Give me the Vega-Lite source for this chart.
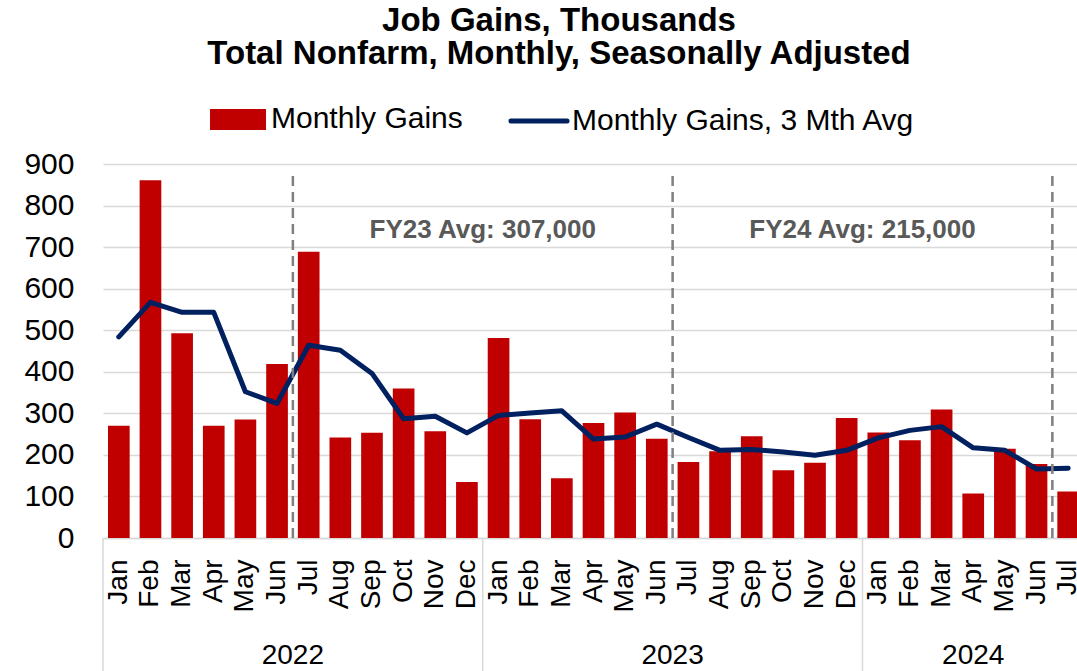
{
  "$schema": "https://vega.github.io/schema/vega-lite/v6.json",
  "width": 974,
  "height": 374,
  "autosize": {"type": "none"},
  "padding": {"left": 103, "top": 164, "right": 0, "bottom": 133},
  "background": "#ffffff",
  "config": {"view": {"stroke": null}, "font": "Liberation Sans"},
  "title": {
    "text": ["Job Gains, Thousands", "Total Nonfarm, Monthly, Seasonally Adjusted"],
    "font": "Liberation Sans",
    "fontSize": 33,
    "fontWeight": "bold",
    "color": "#000000",
    "lineHeight": 33.4,
    "anchor": "middle",
    "frame": "group",
    "dx": -31,
    "offset": 20
  },
  "datasets": {
    "jobs": [
      {"date": "2022-01-01", "gains": 270, "avg3": 484},
      {"date": "2022-02-01", "gains": 861, "avg3": 567},
      {"date": "2022-03-01", "gains": 493, "avg3": 543},
      {"date": "2022-04-01", "gains": 270, "avg3": 543},
      {"date": "2022-05-01", "gains": 285, "avg3": 352},
      {"date": "2022-06-01", "gains": 419, "avg3": 324},
      {"date": "2022-07-01", "gains": 689, "avg3": 464},
      {"date": "2022-08-01", "gains": 242, "avg3": 452},
      {"date": "2022-09-01", "gains": 253, "avg3": 396},
      {"date": "2022-10-01", "gains": 360, "avg3": 287},
      {"date": "2022-11-01", "gains": 257, "avg3": 293},
      {"date": "2022-12-01", "gains": 135, "avg3": 253},
      {"date": "2023-01-01", "gains": 481, "avg3": 295},
      {"date": "2023-02-01", "gains": 286, "avg3": 301},
      {"date": "2023-03-01", "gains": 144, "avg3": 306},
      {"date": "2023-04-01", "gains": 277, "avg3": 238},
      {"date": "2023-05-01", "gains": 302, "avg3": 243},
      {"date": "2023-06-01", "gains": 239, "avg3": 274},
      {"date": "2023-07-01", "gains": 183, "avg3": 242},
      {"date": "2023-08-01", "gains": 209, "avg3": 211},
      {"date": "2023-09-01", "gains": 245, "avg3": 213},
      {"date": "2023-10-01", "gains": 163, "avg3": 207},
      {"date": "2023-11-01", "gains": 181, "avg3": 199},
      {"date": "2023-12-01", "gains": 289, "avg3": 211},
      {"date": "2024-01-01", "gains": 254, "avg3": 241},
      {"date": "2024-02-01", "gains": 235, "avg3": 259},
      {"date": "2024-03-01", "gains": 309, "avg3": 268},
      {"date": "2024-04-01", "gains": 107, "avg3": 217},
      {"date": "2024-05-01", "gains": 215, "avg3": 211},
      {"date": "2024-06-01", "gains": 178, "avg3": 166},
      {"date": "2024-07-01", "gains": 112, "avg3": 168}
    ],
    "years": [
      {"year": "2022", "start": 0, "mid": 6},
      {"year": "2023", "start": 12, "mid": 18},
      {"year": "2024", "start": 24, "mid": 27.5}
    ],
    "fiscal": [
      {"boundary": 6},
      {"boundary": 18},
      {"boundary": 30}
    ],
    "fyavg": [
      {"label": "FY23 Avg: 307,000", "center": 12},
      {"label": "FY24 Avg: 215,000", "center": 24}
    ]
  },
  "layer": [
    {
      "data": {"name": "jobs"},
      "encoding": {
        "x": {
          "field": "date",
          "type": "ordinal",
          "timeUnit": "utcyearmonth",
          "scale": {"paddingInner": 0.315, "paddingOuter": 0.1575, "range": [0, 981]},
          "axis": {
            "title": null,
            "labelExpr": "utcFormat(datum.value, '%b')",
            "labelAngle": -90,
            "labelAlign": "right",
            "labelBaseline": "middle",
            "labelFont": "Liberation Sans",
            "labelFontSize": 28,
            "labelColor": "#000000",
            "labelPadding": 21,
            "labelOverlap": false,
            "ticks": false,
            "tickSize": 0,
            "domainColor": "#d9d9d9",
            "domainWidth": 1.5
          }
        }
      },
      "layer": [
        {
          "mark": {"type": "bar"},
          "encoding": {
            "y": {
              "field": "gains",
              "type": "quantitative",
              "scale": {"domain": [0, 900], "nice": false},
              "axis": {
                "title": null,
                "domain": false,
                "ticks": false,
                "tickSize": 0,
                "grid": true,
                "gridColor": "#d9d9d9",
                "gridWidth": 1.5,
                "values": [0, 100, 200, 300, 400, 500, 600, 700, 800, 900],
                "labelFont": "Liberation Sans",
                "labelFontSize": 30,
                "labelColor": "#000000",
                "labelPadding": 29
              }
            },
            "color": {
              "datum": "Monthly Gains",
              "type": "nominal",
              "scale": {
                "domain": ["Monthly Gains", "Monthly Gains, 3 Mth Avg"],
                "range": ["#c00000", "#002060"]
              },
              "legend": {
                "orient": "none",
                "legendX": 107,
                "legendY": -73,
                "direction": "horizontal",
                "title": null,
                "padding": 0,
                "labelFont": "Liberation Sans",
                "labelFontSize": 30,
                "labelColor": "#000000",
                "labelLimit": 600,
                "labelOffset": 5,
                "columnPadding": 37,
                "symbolSize": 2601,
                "symbolStrokeWidth": 5,
                "encode": {
                  "symbols": {
                    "update": {
                      "shape": {"signal": "datum.value === 'Monthly Gains' ? 'M-1,-0.314H1V0.314H-1Z' : 'M-1.1,0H1.1'"},
                      "fill": {"signal": "datum.value === 'Monthly Gains' ? '#c00000' : 'transparent'"},
                      "stroke": {"signal": "datum.value === 'Monthly Gains' ? 'transparent' : '#002060'"},
                      "strokeWidth": {"value": 5},
                      "strokeCap": {"value": "round"},
                      "opacity": {"value": 1},
                      "fillOpacity": {"value": 1},
                      "strokeOpacity": {"value": 1}
                    }
                  }
                }
              }
            }
          }
        },
        {
          "mark": {"type": "line", "strokeWidth": 5, "strokeCap": "round", "strokeJoin": "round"},
          "encoding": {
            "y": {"field": "avg3", "type": "quantitative"},
            "color": {"datum": "Monthly Gains, 3 Mth Avg", "type": "nominal"}
          }
        }
      ]
    },
    {
      "layer": [
        {
          "data": {"name": "years"},
          "mark": {"type": "rule", "color": "#d9d9d9", "strokeWidth": 1.5, "y2Offset": 134},
          "encoding": {
            "x": {"field": "start", "type": "quantitative", "scale": {"domain": [0, 31], "range": [0, 981], "nice": false, "zero": false}, "axis": null},
            "y": {"datum": 0, "type": "quantitative"},
            "y2": {"datum": 0}
          }
        },
        {
          "data": {"name": "years"},
          "mark": {"type": "text", "font": "Liberation Sans", "fontSize": 28, "color": "#000000", "align": "center", "baseline": "alphabetic", "dy": 126},
          "encoding": {
            "x": {"field": "mid", "type": "quantitative", "axis": null},
            "y": {"datum": 0, "type": "quantitative"},
            "text": {"field": "year"}
          }
        },
        {
          "data": {"name": "fiscal"},
          "mark": {"type": "rule", "color": "#808080", "strokeWidth": 2.5, "strokeDash": [10, 6]},
          "encoding": {
            "x": {"field": "boundary", "type": "quantitative", "axis": null},
            "y": {"datum": 0, "type": "quantitative"},
            "y2": {"datum": 883}
          }
        },
        {
          "data": {"name": "fyavg"},
          "mark": {"type": "text", "font": "Liberation Sans", "fontSize": 26, "fontWeight": "bold", "color": "#595959", "align": "center", "baseline": "alphabetic"},
          "encoding": {
            "x": {"field": "center", "type": "quantitative", "axis": null},
            "y": {"datum": 723, "type": "quantitative"},
            "text": {"field": "label"}
          }
        }
      ]
    }
  ],
  "resolve": {"scale": {"x": "independent"}}
}
